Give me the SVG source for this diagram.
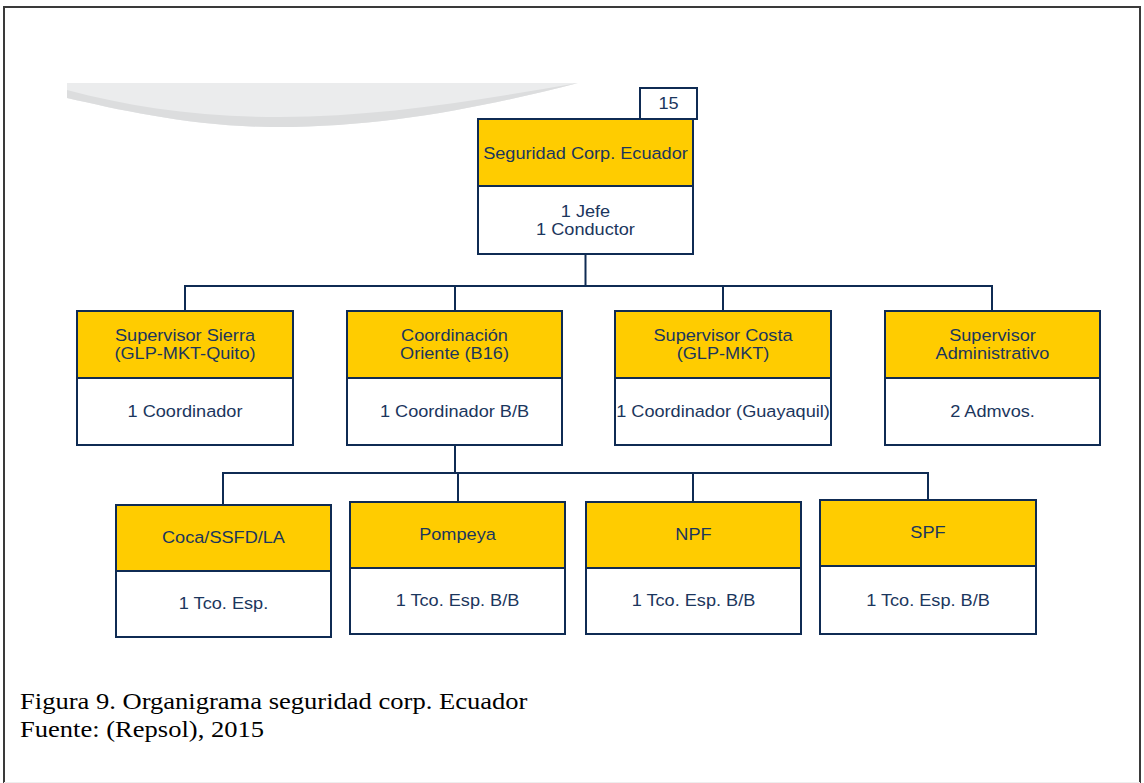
<svg xmlns="http://www.w3.org/2000/svg" width="1144" height="783" viewBox="0 0 1144 783">
  <style>
    .hd { fill: #ffcc00; stroke: #0f2b53; stroke-width: 2; }
    .bd { fill: #ffffff; stroke: #0f2b53; stroke-width: 2; }
    .t { font-family: "Liberation Sans", Arial, sans-serif; font-size: 16.5px; fill: #1b365d; text-anchor: middle; }
    .cap { font-family: "Liberation Serif", "Times New Roman", serif; font-size: 23px; fill: #000000; }
    .ln { fill: none; stroke: #0f2b53; stroke-width: 2; }
  </style>

  <!-- page background and frame -->
  <rect x="0" y="0" width="1144" height="783" fill="#ffffff"/>
  <path d="M4,783 V7 H1140 V783" fill="none" stroke="#3a3a3a" stroke-width="2"/>
  <line x1="4" y1="782.5" x2="1140" y2="782.5" stroke="#eeeeee" stroke-width="1"/>

  <!-- decorative swoosh -->
  <g id="swoosh">
    <path d="M67,83 L578,83 C480,108 380,128 270,127 C190,126 120,110 67,98 Z" fill="#ebeced"/>
    <path d="M67,90 C130,107 200,117 280,117 C380,117 480,100 578,83 C480,108 380,128 270,127 C190,126 120,110 67,98 Z" fill="#dcddde"/>
  </g>

  <!-- connectors -->
  <g id="connectors">
    <path class="ln" d="M585.5,254 V286"/>
    <path class="ln" d="M185,311 V286 H992 V311"/>
    <path class="ln" d="M455,286 V311" stroke-width="2.5"/>
    <path class="ln" d="M723,286 V311"/>
    <path class="ln" d="M455,445 V473" stroke-width="2.5"/>
    <path class="ln" d="M223,505 V473 H928 V500"/>
    <path class="ln" d="M458,473 V502"/>
    <path class="ln" d="M693,473 V502"/>
  </g>

  <!-- top node -->
  <g id="node-seguridad">
    <rect class="bd" x="640" y="88" width="57" height="31"/>
    <text class="t" transform="translate(668.5 109) scale(1.1 1)">15</text>
    <rect class="hd" x="478" y="119" width="215" height="67"/>
    <rect class="bd" x="478" y="186" width="215" height="68"/>
    <text class="t" transform="translate(585.5 159) scale(1.1 1)">Seguridad Corp. Ecuador</text>
    <text class="t" transform="translate(585.5 217) scale(1.1 1)">1 Jefe</text>
    <text class="t" transform="translate(585.5 235) scale(1.1 1)">1 Conductor</text>
  </g>

  <!-- second level -->
  <g id="node-sierra">
    <rect class="hd" x="77" y="311" width="216" height="67"/>
    <rect class="bd" x="77" y="378" width="216" height="67"/>
    <text class="t" transform="translate(185 341) scale(1.1 1)">Supervisor Sierra</text>
    <text class="t" transform="translate(185 359) scale(1.1 1)">(GLP-MKT-Quito)</text>
    <text class="t" transform="translate(185 417) scale(1.1 1)">1 Coordinador</text>
  </g>
  <g id="node-oriente">
    <rect class="hd" x="347" y="311" width="215" height="67"/>
    <rect class="bd" x="347" y="378" width="215" height="67"/>
    <text class="t" transform="translate(454.5 341) scale(1.1 1)">Coordinación</text>
    <text class="t" transform="translate(454.5 359) scale(1.1 1)">Oriente (B16)</text>
    <text class="t" transform="translate(454.5 417) scale(1.1 1)">1 Coordinador B/B</text>
  </g>
  <g id="node-costa">
    <rect class="hd" x="615" y="311" width="216" height="67"/>
    <rect class="bd" x="615" y="378" width="216" height="67"/>
    <text class="t" transform="translate(723 341) scale(1.1 1)">Supervisor Costa</text>
    <text class="t" transform="translate(723 359) scale(1.1 1)">(GLP-MKT)</text>
    <text class="t" transform="translate(723 417) scale(1.1 1)">1 Coordinador (Guayaquil)</text>
  </g>
  <g id="node-administrativo">
    <rect class="hd" x="885" y="311" width="215" height="67"/>
    <rect class="bd" x="885" y="378" width="215" height="67"/>
    <text class="t" transform="translate(992.5 341) scale(1.1 1)">Supervisor</text>
    <text class="t" transform="translate(992.5 359) scale(1.1 1)">Administrativo</text>
    <text class="t" transform="translate(992.5 417) scale(1.1 1)">2 Admvos.</text>
  </g>

  <!-- third level -->
  <g id="node-coca">
    <rect class="hd" x="116" y="505" width="215" height="66"/>
    <rect class="bd" x="116" y="571" width="215" height="66"/>
    <text class="t" transform="translate(223.5 543) scale(1.1 1)">Coca/SSFD/LA</text>
    <text class="t" transform="translate(223.5 609) scale(1.1 1)">1 Tco. Esp.</text>
  </g>
  <g id="node-pompeya">
    <rect class="hd" x="350" y="502" width="215" height="66"/>
    <rect class="bd" x="350" y="568" width="215" height="66"/>
    <text class="t" transform="translate(457.5 540) scale(1.1 1)">Pompeya</text>
    <text class="t" transform="translate(457.5 606) scale(1.1 1)">1 Tco. Esp. B/B</text>
  </g>
  <g id="node-npf">
    <rect class="hd" x="586" y="502" width="215" height="66"/>
    <rect class="bd" x="586" y="568" width="215" height="66"/>
    <text class="t" transform="translate(693.5 540) scale(1.1 1)">NPF</text>
    <text class="t" transform="translate(693.5 606) scale(1.1 1)">1 Tco. Esp. B/B</text>
  </g>
  <g id="node-spf">
    <rect class="hd" x="820" y="500" width="216" height="66"/>
    <rect class="bd" x="820" y="566" width="216" height="68"/>
    <text class="t" transform="translate(928 538) scale(1.1 1)">SPF</text>
    <text class="t" transform="translate(928 606) scale(1.1 1)">1 Tco. Esp. B/B</text>
  </g>

  <!-- caption -->
  <g id="caption">
    <text class="cap" transform="translate(20 709) scale(1.155 1)">Figura 9. Organigrama seguridad corp. Ecuador</text>
    <text class="cap" transform="translate(20 737) scale(1.155 1)">Fuente: (Repsol), 2015</text>
  </g>
</svg>
